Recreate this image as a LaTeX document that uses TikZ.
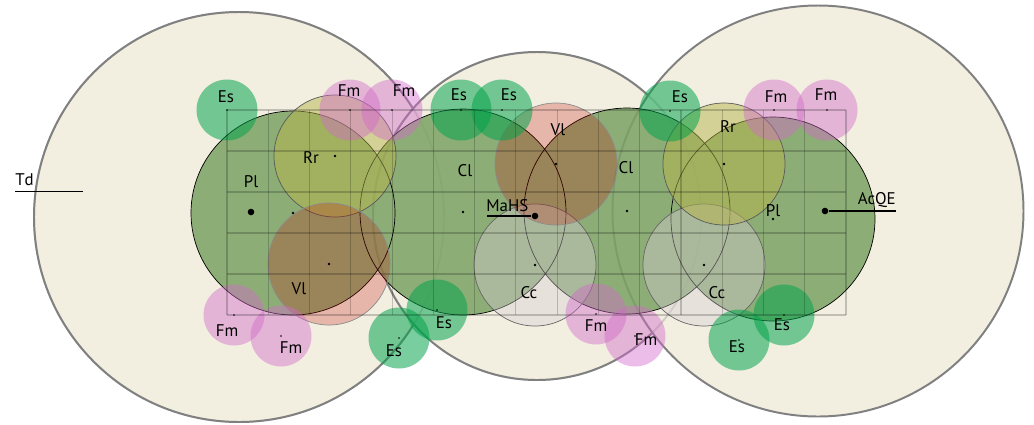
\documentclass[tikz,border=0pt]{standalone}
\usepackage{fontspec}
\setmainfont{PT Sans}

\definecolor{cream}{RGB}{242,239,225}
\definecolor{rim}{RGB}{128,128,128}
\definecolor{leafgreen}{RGB}{124,162,101}
\definecolor{ccgray}{RGB}{215,205,210}
\definecolor{rryellow}{RGB}{182,181,75}
\definecolor{vlred}{RGB}{194,15,5}
\definecolor{esgreen}{RGB}{0,163,74}
\definecolor{fmpink}{RGB}{210,105,202}

\begin{document}
\begin{tikzpicture}[x=0.025cm,y=-0.025cm,
  font=\fontsize{12}{14}\selectfont,
  every node/.style={inner sep=0pt},
  zone/.style={fill=cream,draw=rim,line width=1.4pt},
  canopy/.style={fill=leafgreen,fill opacity=0.85},
  rimline/.style={draw=black,line width=0.5pt},
  cover/.style={fill=ccgray,fill opacity=0.4,draw=black!60,line width=0.5pt},
  shrub/.style={fill=rryellow,fill opacity=0.5,draw=black!65,line width=0.5pt},
  vine/.style={fill=vlred,fill opacity=0.25,draw=black!45,line width=0.5pt},
  herb/.style={fill=esgreen,fill opacity=0.53},
  flower/.style={fill=fmpink,fill opacity=0.44},
  gridline/.style={black,opacity=0.2,line width=0.8pt},
  tag/.style={line width=1pt},
  bigdot/.style={circle,fill=black,minimum size=4.7pt}]
\useasboundingbox (0,0) rectangle (1034,424);

\coordinate (td c) at (239,217);
\coordinate (mahs c) at (537,216);
\coordinate (acqe c) at (818,211);
\filldraw[zone] (td c) circle[radius=205];
\filldraw[zone] (mahs c) circle[radius=164];
\filldraw[zone] (acqe c) circle[radius=205.5];
\draw[rim,line width=1.4pt,opacity=0.3] (td c) circle[radius=205] (mahs c) circle[radius=164];

\coordinate (pl1) at (293,213);
\coordinate (cl1) at (463,212);
\coordinate (cl2) at (627,211);
\coordinate (pl2) at (773,219);
\fill[canopy] (pl1) circle[radius=102] (cl1) circle[radius=103]
  (cl2) circle[radius=103] (pl2) circle[radius=102];
\draw[rimline] (pl1) circle[radius=102] (cl1) circle[radius=103]
  (cl2) circle[radius=103] (pl2) circle[radius=102];

\coordinate (cc1) at (535,265);
\coordinate (cc2) at (704,265);
\coordinate (rr1) at (335,156);
\coordinate (rr2) at (724,164);
\coordinate (vl1) at (329,264);
\coordinate (vl2) at (556,164);
\filldraw[cover] (cc1) circle[radius=61];
\filldraw[cover] (cc2) circle[radius=61];
\filldraw[shrub] (rr1) circle[radius=61];
\filldraw[shrub] (rr2) circle[radius=61];
\filldraw[vine] (vl1) circle[radius=61];
\filldraw[vine] (vl2) circle[radius=61];

\foreach \x/\y in {227/110,461/110,502/110,670/111,437/310,399/338,739/340,784/315}
  \fill[herb] (\x,\y) circle[radius=30.5];
\foreach \x/\y in {350/110,392/110,774/110,827/110,234/315,281/336,596/314,635/336}
  \fill[flower] (\x,\y) circle[radius=30.5];

\foreach \i in {0,...,15}
  \draw[gridline] ({227+41.27*\i},110) -- ({227+41.27*\i},315);
\foreach \j in {0,...,5}
  \draw[gridline] (227,{110+41*\j}) -- (846,{110+41*\j});

\foreach \p in {pl1,cl1,cl2,pl2,cc1,cc2,rr1,rr2,vl1,vl2}
  \fill (\p) circle[radius=1.3];
\foreach \x/\y in {227/110,461/110,502/110,670/111,437/310,399/338,739/340,784/315,
  350/110,392/110,774/110,827/110,234/315,281/336,596/314,635/336}
  \fill (\x,\y) circle[radius=0.8];

\node[bigdot] (pl dot) at (251,212) {};
\node[bigdot] (mahs dot) at (535,216) {};
\node[bigdot] (acqe dot) at (825,211) {};
\coordinate (td a) at (15,191.5);
\coordinate (td b) at (83,191.5);
\coordinate (mahs a) at (487,216);
\coordinate (acqe b) at (896,211);
\draw[tag] (td a) -- (td b);
\draw[tag] (mahs a) -- (mahs dot);
\draw[tag] (acqe dot) -- (acqe b);
\node[anchor=base west] (td) at (15,185.5) {Td};
\node[anchor=base west] (mahs) at (486,211.5) {MaHS};
\node[anchor=base east] (acqe) at (896,204.5) {AcQE};

\node (pl1 l) at (251,182) {Pl};
\node (pl2 l) at (773,211) {Pl};
\node (cl1 l) at (465,171) {Cl};
\node (cl2 l) at (626,168) {Cl};
\node (rr1 l) at (311,158) {Rr};
\node (rr2 l) at (728,127) {Rr};
\node (vl1 l) at (299,289) {Vl};
\node (vl2 l) at (558,130) {Vl};
\node (cc1 l) at (529,293) {Cc};
\node (cc2 l) at (717,293) {Cc};
\foreach \x/\y [count=\k] in {226/97,459/95,509/95,680/97,444/323,394/351,737/347,782/325}
  \node (es\k) at (\x,\y) {Es};
\foreach \x/\y [count=\k] in {349/91,404/91,776/97,826/95,227/331,291/348,596/326,646/340}
  \node (fm\k) at (\x,\y) {Fm};
\end{tikzpicture}
\end{document}
